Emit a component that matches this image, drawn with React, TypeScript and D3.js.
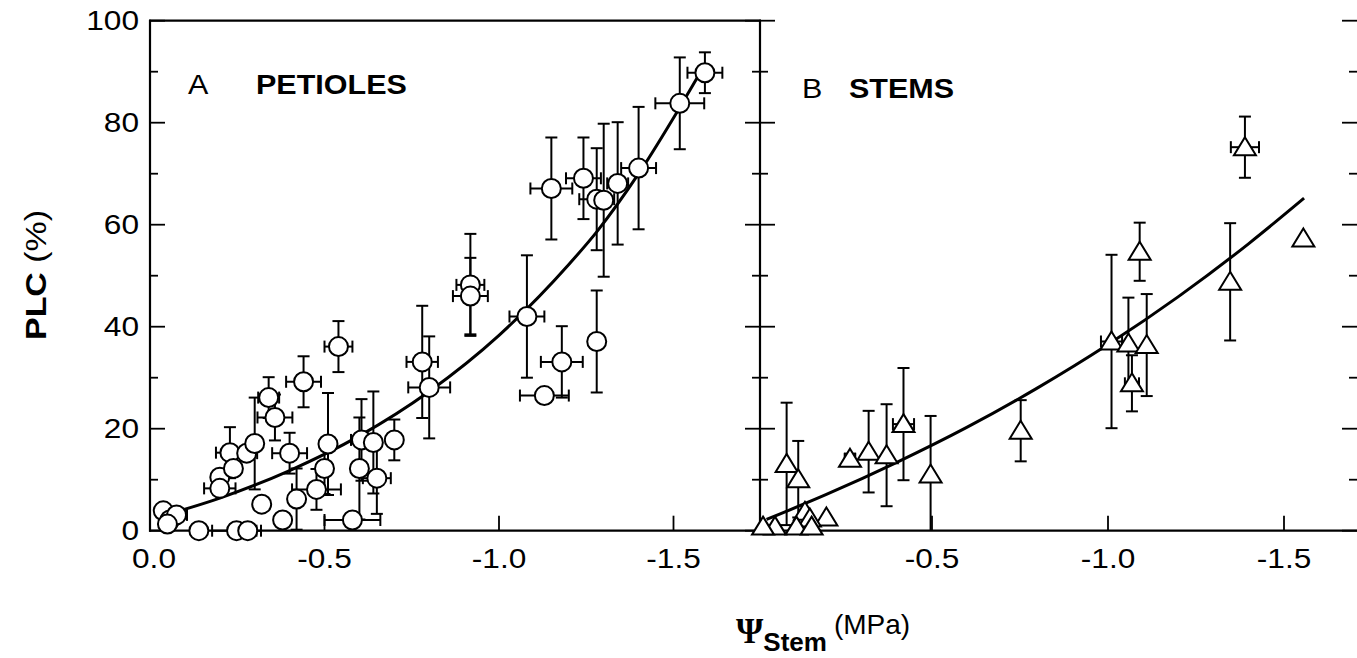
import React from "react";
import * as d3 from "d3";

// ---- Data ----
// Panel A: petioles  (x = stem water potential, MPa; y = PLC %)
const petioleX = [-0.038, -0.057, -0.076, -0.05, -0.14, -0.248, -0.28, -0.2, -0.2, -0.229, -0.239, -0.277, -0.3, -0.34, -0.358, -0.32, -0.4, -0.44, -0.54, -0.51, -0.5, -0.477, -0.42, -0.38, -0.6, -0.606, -0.64, -0.65, -0.7, -0.78, -0.8, -0.58, -0.918, -0.918, -1.08, -1.28, -1.18, -1.13, -1.15, -1.242, -1.28, -1.3, -1.34, -1.4, -1.518, -1.59];
const petiolePLC = [3.9, 2.1, 3.1, 1.3, 0, 0, 0, 10.5, 8.3, 15.3, 12.2, 15.2, 17.1, 26.1, 22.2, 5.2, 15.2, 29.2, 36.1, 17.0, 12.2, 8.1, 6.2, 2.1, 12.2, 17.8, 17.3, 10.3, 17.8, 33.1, 28.1, 2.1, 48.2, 46.0, 42.0, 37.1, 33.1, 26.5, 67.1, 69.1, 65.0, 64.8, 68.1, 71.1, 83.8, 89.8];
const petioleXErr = [0, 0, 0.03, 0, 0, 0.07, 0.025, 0, 0.045, 0.04, 0, 0.03, 0, 0.03, 0.05, 0.02, 0.05, 0.05, 0.04, 0, 0.02, 0.07, 0, 0, 0, 0.03, 0, 0.04, 0, 0.045, 0.06, 0.08, 0.04, 0.05, 0.05, 0, 0.06, 0.07, 0.06, 0.05, 0.05, 0, 0.03, 0.05, 0.07, 0.05];
const petioleYErr = [0, 0, 0, 0, 0, 0, 0, 0, 0, 5, 0, 0, 9, 4, 4.5, 0, 4, 5, 5, 10, 5, 4, 6, 0, 10, 8, 10, 7, 4, 11, 10, 0, 10, 7.5, 12, 10, 7, 0, 10, 8, 10, 15, 12, 12, 9, 4];

// Panel B: stems
const stemX = [-1.389, -1.555, -1.347, -1.09, -1.01, -1.058, -1.11, -1.068, -0.752, -0.419, -0.496, -0.32, -0.371, -0.267, -0.087, -0.12, -0.2, -0.139, -0.153, -0.115, -0.158, -0.054, -0.02];
const stemPLC = [75.2, 57.3, 48.8, 54.7, 37.1, 36.7, 36.4, 28.9, 19.6, 20.9, 11.0, 15.5, 14.8, 14.1, 13.1, 10.1, 2.6, 3.7, 2.4, 0.8, 0.8, 0.8, 0.8];
const stemXErr = [0.04, 0, 0, 0, 0.03, 0, 0, 0.02, 0, 0.03, 0, 0, 0, 0.015, 0, 0, 0, 0, 0, 0, 0, 0, 0];
const stemYErr = [6, 0, 11.5, 5.7, 17, 9, 10, 5.5, 6, 11, 11.5, 8, 10, 1, 12, 7.5, 0, 0, 0, 0, 0, 0, 0];

// Fitted curves
const petioleCurveX = [-0.035, -0.2, -0.4, -0.6, -0.8, -1.0, -1.2, -1.28, -1.4, -1.518, -1.585];
const petioleCurveY = [2.9, 6.4, 11.8, 18.6, 27.3, 38.3, 52.2, 58.6, 70.0, 83.0, 90.8];
const stemCurveX = [-0.03, -0.2, -0.4, -0.6, -0.8, -1.0, -1.2, -1.4, -1.557];
const stemCurveY = [2.2, 7.1, 13.4, 20.3, 28.0, 36.5, 45.9, 56.3, 65.2];

// Axis ticks
const yTicks = [0, 20, 40, 60, 80, 100];
const yMinorTicks = [10, 30, 50, 70, 90];
const xTicksA = [0, -0.5, -1.0, -1.5];
const xTicksB = [-0.5, -1.0, -1.5];

const W = 1357;
const H = 658;
const FONT = "'Liberation Sans', Arial, Helvetica, sans-serif";
const STRETCH = 1.13;

function SText(props: {
  x: number;
  y: number;
  anchor?: "start" | "middle" | "end";
  size: number;
  bold?: boolean;
  dy?: string;
  children: React.ReactNode;
}) {
  return (
    <text
      transform={`translate(${props.x},${props.y}) scale(${STRETCH},1)`}
      textAnchor={props.anchor || "start"}
      fontSize={props.size}
      fontWeight={props.bold ? "bold" : "normal"}
      dy={props.dy}
      fill="#000"
    >
      {props.children}
    </text>
  );
}

export default function App() {
  const left = 150;
  const mid = 760;
  const right = 1357;
  const top = 20.7;
  const bottom = 530.7;

  const y = d3.scaleLinear().domain([0, 100]).range([bottom, top]);
  const xA = d3.scaleLinear().domain([0, -1.5]).range([150, 673.5]);
  const xB = d3.scaleLinear().domain([0, -1.5]).range([756, 1284]);

  const lineA = d3
    .line<number>()
    .x((_, i) => xA(petioleCurveX[i]))
    .y((d) => y(d))
    .curve(d3.curveMonotoneX);
  const lineB = d3
    .line<number>()
    .x((_, i) => xB(stemCurveX[i]))
    .y((d) => y(d))
    .curve(d3.curveMonotoneX);

  const sw = 2;
  const cap = 6;

  const errBars = (
    xs: number[],
    ys: number[],
    xe: number[],
    ye: number[],
    xs_: d3.ScaleLinear<number, number>,
    key: string
  ) =>
    xs.map((xv, i) => {
      const cx = xs_(xv);
      const cy = y(ys[i]);
      const els: React.ReactNode[] = [];
      if (ye[i] > 0) {
        const y1 = y(Math.min(100, ys[i] + ye[i]));
        const lo = ys[i] - ye[i];
        const y2 = y(Math.max(0, lo));
        els.push(<line key="v" x1={cx} x2={cx} y1={y1} y2={y2} />);
        els.push(<line key="vt" x1={cx - cap} x2={cx + cap} y1={y1} y2={y1} />);
        if (lo > 0) els.push(<line key="vb" x1={cx - cap} x2={cx + cap} y1={y2} y2={y2} />);
      }
      if (xe[i] > 0) {
        const x1 = xs_(xv + xe[i]);
        const x2 = xs_(xv - xe[i]);
        els.push(<line key="h" x1={x1} x2={x2} y1={cy} y2={cy} />);
        els.push(<line key="hl" x1={x1} x2={x1} y1={cy - cap} y2={cy + cap} />);
        els.push(<line key="hr" x1={x2} x2={x2} y1={cy - cap} y2={cy + cap} />);
      }
      return <g key={key + i}>{els}</g>;
    });

  const tri = (cx: number, cy: number) => {
    const hw = 11;
    return `M${cx},${cy - 10} L${cx + hw},${cy + 8} L${cx - hw},${cy + 8} Z`;
  };

  return (
    <svg
      width={W}
      height={H}
      style={{ position: "absolute", left: 0, top: 0, background: "#fff" }}
      fontFamily={FONT}
    >
      <rect x={0} y={0} width={W} height={H} fill="#fff" />

      {/* Frame */}
      <g stroke="#000" strokeWidth={2.2} fill="none">
        <line x1={left} x2={left} y1={top - 1} y2={bottom + 1} />
        <line x1={left - 1} x2={mid + 1} y1={top} y2={top} />
        <line x1={mid} x2={mid} y1={top - 1} y2={bottom + 1} />
        <line x1={left - 1} x2={right} y1={bottom} y2={bottom} />
      </g>

      {/* Ticks */}
      <g stroke="#000" strokeWidth={1.8}>
        {yTicks.map((t) => (
          <g key={"yt" + t}>
            <line x1={left} x2={left + 15} y1={y(t)} y2={y(t)} />
            <line x1={mid - 15} x2={mid + 15} y1={y(t)} y2={y(t)} />
            <line x1={right - 15} x2={right} y1={y(t)} y2={y(t)} />
          </g>
        ))}
        {yMinorTicks.map((t) => (
          <g key={"ym" + t}>
            <line x1={left} x2={left + 8} y1={y(t)} y2={y(t)} />
            <line x1={mid - 8} x2={mid + 8} y1={y(t)} y2={y(t)} />
            <line x1={right - 8} x2={right} y1={y(t)} y2={y(t)} />
          </g>
        ))}
        {xTicksA.filter((t) => t !== 0).map((t) => (
          <line key={"xa" + t} x1={xA(t)} x2={xA(t)} y1={bottom} y2={bottom - 15} />
        ))}
        {xTicksB.map((t) => (
          <line key={"xb" + t} x1={xB(t)} x2={xB(t)} y1={bottom} y2={bottom - 15} />
        ))}
      </g>

      {/* Tick labels */}
      {yTicks.map((t) => (
        <SText key={"yl" + t} x={left - 11} y={y(t) - 1} dy="0.36em" anchor="end" size={28}>
          {t}
        </SText>
      ))}
      {xTicksA.map((t) => (
        <SText key={"xal" + t} x={xA(t) + (t === 0 ? 4 : 0)} y={bottom + 37} anchor="middle" size={28}>
          {t === 0 ? "0.0" : t.toFixed(1)}
        </SText>
      ))}
      {xTicksB.map((t) => (
        <SText key={"xbl" + t} x={xB(t)} y={bottom + 37} anchor="middle" size={28}>
          {t.toFixed(1)}
        </SText>
      ))}

      {/* Curves */}
      <path d={lineA(petioleCurveY) || ""} fill="none" stroke="#000" strokeWidth={3} />
      <path d={lineB(stemCurveY) || ""} fill="none" stroke="#000" strokeWidth={3} />

      {/* Error bars */}
      <g stroke="#000" strokeWidth={sw}>
        {errBars(petioleX, petiolePLC, petioleXErr, petioleYErr, xA, "pe")}
        {errBars(stemX, stemPLC, stemXErr, stemYErr, xB, "se")}
      </g>

      {/* Markers */}
      <g stroke="#000" strokeWidth={sw} fill="#fff">
        {petioleX.map((xv, i) => (
          <circle key={"pc" + i} cx={xA(xv)} cy={y(petiolePLC[i])} r={9.5} />
        ))}
        {stemX.map((xv, i) => (
          <path key={"st" + i} d={tri(xB(xv), y(stemPLC[i]))} strokeLinejoin="miter" />
        ))}
      </g>

      {/* Panel labels */}
      <SText x={188} y={94} size={27}>A</SText>
      <SText x={256} y={94} size={27} bold>PETIOLES</SText>
      <SText x={802} y={98} size={27}>B</SText>
      <SText x={849} y={98} size={27} bold>STEMS</SText>

      {/* Axis titles */}
      <text transform={`translate(46,275) rotate(-90) scale(${STRETCH},1)`} textAnchor="middle" fontSize={30} fill="#000">
        <tspan fontWeight="bold">PLC</tspan>
        <tspan> (%)</tspan>
      </text>
      <text transform={`translate(736,643)`} fill="#000">
        <tspan fontFamily="'Liberation Serif', 'Times New Roman', serif" fontWeight="bold" fontSize={35}>Ψ</tspan>
        <tspan fontWeight="bold" fontSize={26} dy={8}>Stem</tspan>
        <tspan fontSize={28} dy={-17} dx={7}>(MPa)</tspan>
      </text>
    </svg>
  );
}
